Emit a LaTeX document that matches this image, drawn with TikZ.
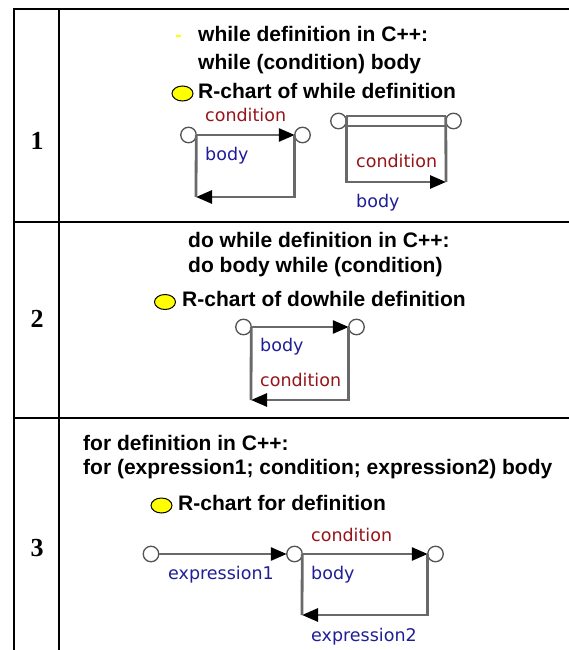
\documentclass[tikz,border=0pt]{standalone}
\usepackage{fontspec}
\setmainfont{Liberation Sans}
\newfontfamily\lblfamily{DejaVu Sans}
\newfontfamily\numfamily{Liberation Serif}
\usetikzlibrary{arrows.meta, shapes.geometric}

\definecolor{condred}{RGB}{150,20,25}
\definecolor{bodyblue}{RGB}{30,30,150}
\definecolor{arcgray}{RGB}{105,105,105}
\definecolor{markyellow}{RGB}{255,255,0}

\tikzset{
    tableline/.style={line width=2.8pt, line cap=rect},
    rownum/.style={font=\numfamily\bfseries\fontsize{26}{30}\selectfont, inner sep=0pt},
    heading/.style={font=\bfseries\fontsize{21}{24}\selectfont, anchor=base west, inner sep=0pt},
    lbl/.style={font=\lblfamily\fontsize{17.5}{20}\selectfont, anchor=west, inner sep=0pt},
    condlbl/.style={lbl, text=condred},
    bodylbl/.style={lbl, text=bodyblue},
    vertex/.style={circle, draw=arcgray!80!black, fill=white, line width=1.3pt,
        minimum size=15.5pt, inner sep=0pt, outer sep=0pt},
    marker/.style={ellipse, draw=black, fill=markyellow, line width=1pt,
        minimum width=21pt, minimum height=15pt, inner sep=0pt},
    arc/.style={draw=arcgray, line width=2.8pt},
    arcto/.style={arc, -{Triangle[length=16pt, width=13pt, color=black]}},
}

\begin{document}
\begin{tikzpicture}[x=1pt, y=-1pt]
\useasboundingbox (0,0) rectangle (568,650);

% === Table frame ===
\draw[tableline] (14,9) -- (568,9);
\draw[tableline] (14,9) -- (14,650);
\draw[tableline] (59,9) -- (59,650);
\draw[tableline] (14,222) -- (568,222);
\draw[tableline] (14,418) -- (568,418);

% === Row numbers ===
\node[rownum] (n1) at (37,141) {1};
\node[rownum] (n2) at (37,319) {2};
\node[rownum] (n3) at (37,548) {3};

% === Row 1: while ===
\fill[markyellow] (176,35) rectangle (181,37.5);
\node[heading] (h1a) at (198,42) {while definition in C++:};
\node[heading] (h1b) at (198,69.5) {while (condition) body};
\node[marker] (m1) at (182.5,93.5) {};
\node[heading] (h1c) at (198,99) {R-chart of while definition};

% left chart
\node[vertex] (wa) at (188.5,135) {};
\node[vertex] (wb) at (302.5,135) {};
\coordinate (wl) at (196,197);
\draw[arcto] (wa) -- (wb);
\draw[arcto] (wb.west) |- (wl);
\draw[arc] (wl) -- (wa.east);
\node[condlbl] (wc) at (205,115) {condition};
\node[bodylbl] (wd) at (205,156) {body};

% right chart
\node[vertex] (ra) at (338.5,121) {};
\node[vertex] (rb) at (453.5,121) {};
\coordinate (rr) at (446,182);
\draw[arc, double=white, double distance=7.2pt] (ra.east) -- (rb.west);
\draw[arcto] ([yshift=5pt]ra.east) |- (rr);
\draw[arc] (rr) -- ([yshift=5pt]rb.west);
\node[condlbl] (rc) at (356,161) {condition};
\node[bodylbl] (rd) at (356,203) {body};

% === Row 2: do while ===
\node[heading] (h2a) at (188,247) {do while definition in C++:};
\node[heading] (h2b) at (188,272) {do body while (condition)};
\node[marker] (m2) at (165,302) {};
\node[heading] (h2c) at (182,306) {R-chart of dowhile definition};

\node[vertex] (da) at (243.5,327) {};
\node[vertex] (db) at (356.5,327) {};
\coordinate (dl) at (251,400);
\draw[arcto] (da) -- (db);
\draw[arcto] (db.west) |- (dl);
\draw[arc] (dl) -- (da.east);
\node[bodylbl] (dd) at (260,347) {body};
\node[condlbl] (dc) at (260,379.5) {condition};

% === Row 3: for ===
\node[heading] (h3a) at (83,450) {for definition in C++:};
\node[heading] (h3b) at (83,474) {for (expression1; condition; expression2) body};
\node[marker] (m3) at (161.5,505.5) {};
\node[heading] (h3c) at (178,510) {R-chart for definition};

\node[vertex] (fa) at (151,554) {};
\node[vertex] (fb) at (294.5,554) {};
\node[vertex] (fc) at (435.5,554) {};
\coordinate (fl) at (302,615);
\draw[arcto] (fa) -- (fb);
\draw[arcto] (fb) -- (fc);
\draw[arcto] (fc.west) |- (fl);
\draw[arc] (fl) -- (fb.east);
\node[bodylbl] (fe) at (168,575) {expression1};
\node[condlbl] (fcn) at (311,534.5) {condition};
\node[bodylbl] (fd) at (311,575) {body};
\node[bodylbl] (fx) at (311,636.5) {expression2};

\end{tikzpicture}
\end{document}
